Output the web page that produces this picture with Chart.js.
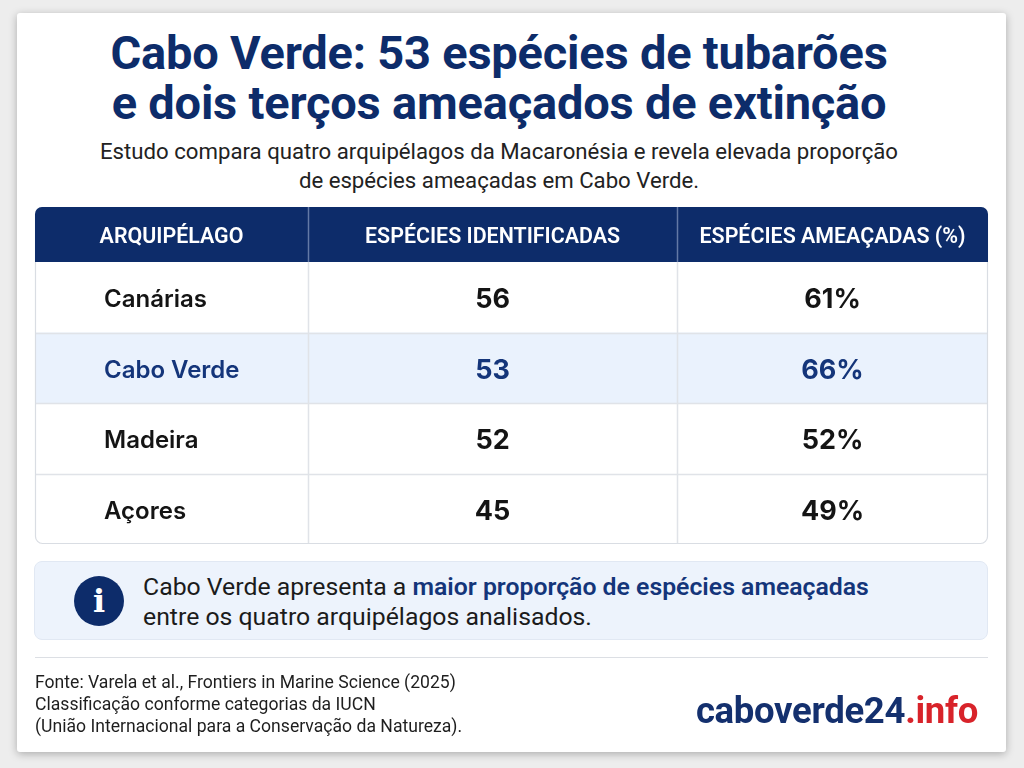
<!DOCTYPE html>
<html>
<head>
<meta charset="utf-8">
<script src="https://cdn.jsdelivr.net/npm/chart.js@4/dist/chart.umd.min.js"></script>
<style>
  html, body { margin:0; padding:0; width:1024px; height:768px; background:#ededed; overflow:hidden; font-family: Roboto, "Noto Sans", sans-serif; }
  #card { position:absolute; left:17px; top:13px; width:989px; height:739px; background:#fff; border-radius:3px; box-shadow:0 2px 8px rgba(0,0,0,0.28); }
  .abs { position:absolute; }
  #title { left:17px; top:28px; width:964px; text-align:center; font: 700 47px/50px Roboto, sans-serif; color:#0d2c6a; letter-spacing:-0.2px; }
  #subtitle { left:17px; top:137px; width:964px; text-align:center; font: 400 22.2px/29px Roboto, sans-serif; color:#222; }
  #info { left:34px; top:561px; width:952px; height:77px; background:#edf3fc; border:1px solid #e1e8f3; border-radius:8px; }
  #icon { left:74px; top:576px; width:50px; height:50px; border-radius:50%; background:#0d2c6a; color:#fff; text-align:center; font: 700 32px/50px "DejaVu Serif", serif; }
  #infotext { left:143px; top:572px; font: 400 24.8px/30px Roboto, sans-serif; color:#1b1b1b; white-space:nowrap; }
  #infotext b { color:#14357a; font-weight:600; }
  #sep { left:35px; top:657px; width:953px; height:1px; background:#dcdfe4; }
  #footer { left:35px; top:671px; font: 400 17.6px/22px Roboto, sans-serif; color:#1e1e1e; white-space:nowrap; }
  #logo { right:46px; top:691px; font: 700 36.5px/40px Roboto, sans-serif; color:#14306e; letter-spacing:-0.3px; white-space:nowrap; }
  #logo span { color:#d8232a; }
  #chartWrap { position:absolute; left:0; top:0; width:1024px; height:768px; }
</style>
</head>
<body>
<div id="card"></div>
<div id="title" class="abs">Cabo Verde: 53 espécies de tubarões<br>e dois terços ameaçados de extinção</div>
<div id="subtitle" class="abs">Estudo compara quatro arquipélagos da Macaronésia e revela elevada proporção<br>de espécies ameaçadas em Cabo Verde.</div>
<div id="chartWrap"><canvas id="c" width="1024" height="768"></canvas></div>
<div id="info" class="abs"></div>
<div id="icon" class="abs">i</div>
<div id="infotext" class="abs">Cabo Verde apresenta a <b>maior proporção de espécies ameaçadas</b><br>entre os quatro arquipélagos analisados.</div>
<div id="sep" class="abs"></div>
<div id="footer" class="abs">Fonte: Varela et al., Frontiers in Marine Science (2025)<br>Classificação conforme categorias da IUCN<br>(União Internacional para a Conservação da Natureza).</div>
<div id="logo" class="abs">caboverde24<span>.info</span></div>
<script>
// ---- Data ----
const columnHeaders = ["ARQUIPÉLAGO", "ESPÉCIES IDENTIFICADAS", "ESPÉCIES AMEAÇADAS (%)"];
const archipelagos = ["Canárias", "Cabo Verde", "Madeira", "Açores"];
const speciesIdentified = [56, 53, 52, 45];
const threatenedPct = [61, 66, 52, 49];
const highlighted = "Cabo Verde";

// ---- Layout / style constants ----
const COL_EDGES = [0, 28.65, 67.37, 100];   // column boundaries on the x scale (0-100)
const HEADER_H = 55;
const NAVY = "#0d2c6a";
const HILITE_BG = "#eaf2fd";
const HILITE_TXT = "#14357a";
const GRID = "#e0e3e8";

const colCenter = i => (COL_EDGES[i] + COL_EDGES[i + 1]) / 2;

function roundRectPath(ctx, x, y, w, h, r) {
  const [tl, tr, br, bl] = r;
  ctx.beginPath();
  ctx.moveTo(x + tl, y);
  ctx.lineTo(x + w - tr, y);
  ctx.arcTo(x + w, y, x + w, y + tr, tr);
  ctx.lineTo(x + w, y + h - br);
  ctx.arcTo(x + w, y + h, x + w - br, y + h, br);
  ctx.lineTo(x + bl, y + h);
  ctx.arcTo(x, y + h, x, y + h - bl, bl);
  ctx.lineTo(x, y + tl);
  ctx.arcTo(x, y, x + tl, y, tl);
  ctx.closePath();
}

const tablePlugin = {
  id: 'tablePlugin',
  beforeDatasetsDraw(chart) {
    const { ctx, chartArea: a, scales: { x, y } } = chart;
    const top = a.top - HEADER_H;
    const L = x.getPixelForValue(COL_EDGES[0]);
    const R = x.getPixelForValue(COL_EDGES[3]);
    const band = (y.getPixelForValue(1) - y.getPixelForValue(0));
    ctx.save();
    roundRectPath(ctx, L, top, R - L, a.bottom - top, [7, 7, 7, 7]);
    ctx.fillStyle = "#fff";
    ctx.fill();
    const hi = archipelagos.indexOf(highlighted);
    const hy = y.getPixelForValue(hi);
    ctx.fillStyle = HILITE_BG;
    ctx.fillRect(L + 1, hy - band / 2, R - L - 2, band);
    ctx.strokeStyle = GRID;
    ctx.lineWidth = 1.5;
    for (let i = 1; i < archipelagos.length; i++) {
      const yy = Math.round(y.getPixelForValue(i) - band / 2) + 0.5;
      ctx.beginPath(); ctx.moveTo(L, yy); ctx.lineTo(R, yy); ctx.stroke();
    }
    for (let i = 1; i < COL_EDGES.length - 1; i++) {
      const xx = Math.round(x.getPixelForValue(COL_EDGES[i])) + 0.5;
      ctx.beginPath(); ctx.moveTo(xx, a.top); ctx.lineTo(xx, a.bottom); ctx.stroke();
    }
    roundRectPath(ctx, L + 0.5, top + 0.5, R - L - 1, a.bottom - top - 1, [7, 7, 7, 7]);
    ctx.strokeStyle = "#d9dde3";
    ctx.lineWidth = 1.2;
    ctx.stroke();
    roundRectPath(ctx, L, top, R - L, HEADER_H, [7, 7, 0, 0]);
    ctx.fillStyle = NAVY;
    ctx.fill();
    ctx.strokeStyle = "rgba(170,185,215,0.55)";
    ctx.lineWidth = 1.5;
    for (let i = 1; i < COL_EDGES.length - 1; i++) {
      const xx = Math.round(x.getPixelForValue(COL_EDGES[i])) + 0.5;
      ctx.beginPath(); ctx.moveTo(xx, top); ctx.lineTo(xx, a.top); ctx.stroke();
    }
    ctx.fillStyle = "#fff";
    ctx.font = "600 21.4px Roboto, sans-serif";
    ctx.textAlign = "center";
    ctx.textBaseline = "middle";
    columnHeaders.forEach((h, i) => ctx.fillText(h, x.getPixelForValue(colCenter(i)), top + HEADER_H / 2 + 3));
    ctx.textAlign = "left";
    ctx.font = "600 24px Inter, Roboto, sans-serif";
    archipelagos.forEach((n, i) => {
      ctx.fillStyle = n === highlighted ? HILITE_TXT : "#141414";
      ctx.fillText(n, L + 69, y.getPixelForValue(i) + 3);
    });
    ctx.restore();
  },
  afterDatasetsDraw(chart) {
    const { ctx } = chart;
    ctx.save();
    ctx.textAlign = "center";
    ctx.textBaseline = "middle";
    ctx.font = "700 27px Inter, Roboto, sans-serif";
    chart.data.datasets.forEach((ds, di) => {
      const meta = chart.getDatasetMeta(di);
      meta.data.forEach((pt, i) => {
        ctx.fillStyle = archipelagos[i] === highlighted ? HILITE_TXT : "#141414";
        ctx.fillText(ds.data[i].label, pt.x, pt.y + 3);
      });
    });
    ctx.restore();
  }
};

new Chart(document.getElementById('c'), {
  type: 'scatter',
  data: {
    datasets: [
      { label: columnHeaders[1], data: speciesIdentified.map((v, i) => ({ x: colCenter(1), y: archipelagos[i], label: String(v) })), pointRadius: 0 },
      { label: columnHeaders[2], data: threatenedPct.map((v, i) => ({ x: colCenter(2), y: archipelagos[i], label: v + "%" })), pointRadius: 0 }
    ]
  },
  options: {
    responsive: false,
    animation: false,
    devicePixelRatio: 1,
    layout: { padding: { left: 35, right: 36, top: 262, bottom: 224 } },
    scales: {
      x: { type: 'linear', min: 0, max: 100, display: false },
      y: { type: 'category', labels: archipelagos, offset: true, display: false }
    },
    plugins: { legend: { display: false }, tooltip: { enabled: false }, title: { display: false } },
    events: []
  },
  plugins: [tablePlugin]
});
</script>
</body>
</html>
